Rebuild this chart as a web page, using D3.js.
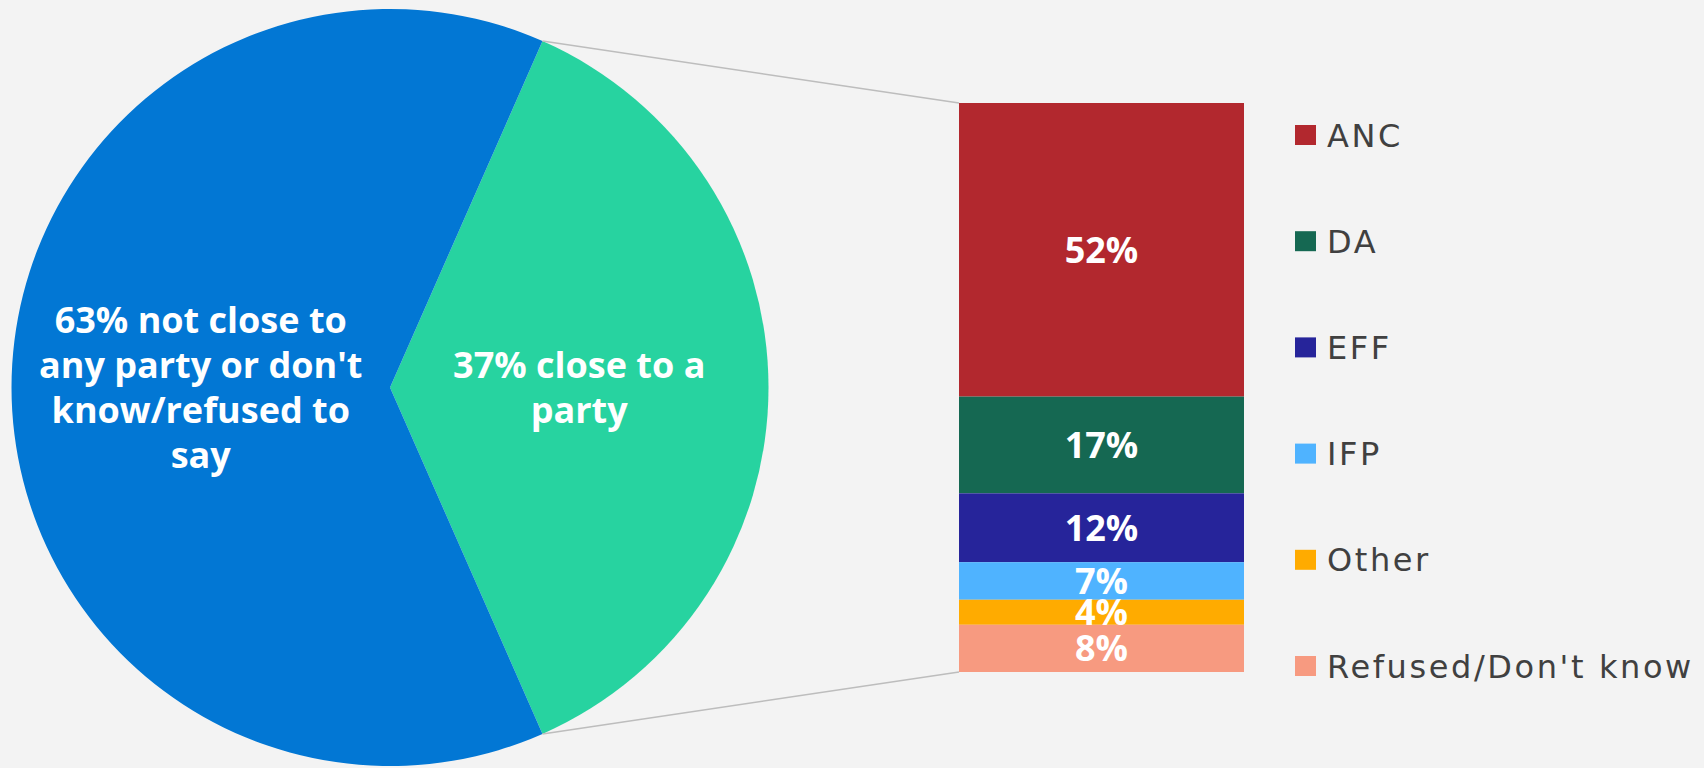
<!DOCTYPE html>
<html>
<head>
<meta charset="utf-8">
<script src="https://cdn.jsdelivr.net/npm/d3@7"></script>
<style>
  html, body { margin: 0; padding: 0; background: #f3f3f3; }
  svg { display: block; }
  .pie-label { font-family: "Open Sans", sans-serif; font-weight: 700; font-size: 36px; fill: #fff; }
  .bar-label { font-family: "Open Sans", sans-serif; font-weight: 700; font-size: 36px; fill: #fff; }
  .legend-text { font-family: "DejaVu Sans", sans-serif; font-size: 32px; fill: #404040; letter-spacing: 2.6px; }
</style>
</head>
<body>
<div id="chart"></div>
<script>
// pie: close to a party vs not
var pieNames = ["close", "not close"],
    pieValues = [36.8, 63.2],
    pieLabels = [["37% close to a", "party"],
                 ["63% not close to", "any party or don't", "know/refused to", "say"]],
    pieColors = ["#27d3a0", "#0277d4"];

// stacked bar: which party
var parties = ["ANC", "DA", "EFF", "IFP", "Other", "Refused/Don't know"],
    partyValues = [51.6, 17.0, 12.1, 6.6, 4.4, 8.3],
    partyColors = ["#b2282e", "#156852", "#26249a", "#4fb3ff", "#ffab00", "#f79a80"];

var width = 1704,
    height = 768,
    cx = 390, cy = 387.5, radius = 378.5,
    barLeft = 959, barRight = 1244, barTop = 103, barBottom = 672,
    legendX = 1295, legendY = 135, legendStep = 106.2, legendBox = 20,
    lineGap = 45, capH = 26;

var svg = d3.select("#chart").append("svg")
    .attr("width", width)
    .attr("height", height);

var greenAngle = pieValues[0] / d3.sum(pieValues) * 2 * Math.PI;

var pie = d3.pie()
    .sort(null)
    .value(function(d) { return d; })
    .startAngle(Math.PI / 2 - greenAngle / 2)
    .endAngle(Math.PI / 2 - greenAngle / 2 + 2 * Math.PI);

var arc = d3.arc().innerRadius(0).outerRadius(radius);

var arcs = pie(pieValues);

var pieG = svg.append("g")
    .attr("transform", "translate(" + cx + "," + cy + ")");

pieG.selectAll(".slice")
    .data(arcs)
    .enter().append("path")
    .attr("class", "slice")
    .attr("d", arc)
    .style("fill", function(d, i) { return pieColors[i]; });

pieG.selectAll(".pie-label")
    .data(arcs)
    .enter().append("text")
    .attr("class", "pie-label")
    .attr("text-anchor", "middle")
    .each(function(d, i) {
        var c = arc.centroid(d),
            lines = pieLabels[i],
            n = lines.length;
        d3.select(this).selectAll("tspan")
            .data(lines)
            .enter().append("tspan")
            .attr("x", c[0])
            .attr("y", function(t, j) { return c[1] + capH / 2 + (j - (n - 1) / 2) * lineGap; })
            .text(function(t) { return t; });
    });

// bar scale
var y = d3.scaleLinear()
    .domain([0, d3.sum(partyValues)])
    .range([barTop, barBottom]);

var stacked = [], acc = 0;
partyValues.forEach(function(v, i) {
    stacked.push({ name: parties[i], value: v, y0: acc, y1: acc + v });
    acc += v;
});

// leader lines from the green slice edges to the bar corners
var a0 = arcs[0].startAngle, a1 = arcs[0].endAngle;
var leaders = [
    [cx + radius * Math.sin(a0), cy - radius * Math.cos(a0), barLeft, y(0)],
    [cx + radius * Math.sin(a1), cy - radius * Math.cos(a1), barLeft, y(acc)]
];

svg.selectAll(".leader")
    .data(leaders)
    .enter().append("line")
    .attr("class", "leader")
    .attr("x1", function(d) { return d[0]; })
    .attr("y1", function(d) { return d[1]; })
    .attr("x2", function(d) { return d[2]; })
    .attr("y2", function(d) { return d[3]; })
    .style("stroke", "#bdbdbd")
    .style("stroke-width", 1.5);

svg.selectAll(".seg")
    .data(stacked)
    .enter().append("rect")
    .attr("class", "seg")
    .attr("x", barLeft)
    .attr("y", function(d) { return y(d.y0); })
    .attr("width", barRight - barLeft)
    .attr("height", function(d) { return y(d.y1) - y(d.y0); })
    .style("fill", function(d, i) { return partyColors[i]; });

svg.selectAll(".bar-label")
    .data(stacked)
    .enter().append("text")
    .attr("class", "bar-label")
    .attr("text-anchor", "middle")
    .attr("x", (barLeft + barRight) / 2)
    .attr("y", function(d) { return (y(d.y0) + y(d.y1)) / 2 + capH / 2; })
    .text(function(d) { return Math.round(d.value) + "%"; });

var legend = svg.selectAll(".legend")
    .data(parties)
    .enter().append("g")
    .attr("class", "legend")
    .attr("transform", function(d, i) { return "translate(" + legendX + "," + (legendY + i * legendStep) + ")"; });

legend.append("rect")
    .attr("x", 0)
    .attr("y", -legendBox / 2)
    .attr("width", legendBox + 1)
    .attr("height", legendBox)
    .style("fill", function(d, i) { return partyColors[i]; });

legend.append("text")
    .attr("class", "legend-text")
    .attr("x", 32)
    .attr("y", 11.5)
    .text(function(d) { return d; });
</script>
</body>
</html>
